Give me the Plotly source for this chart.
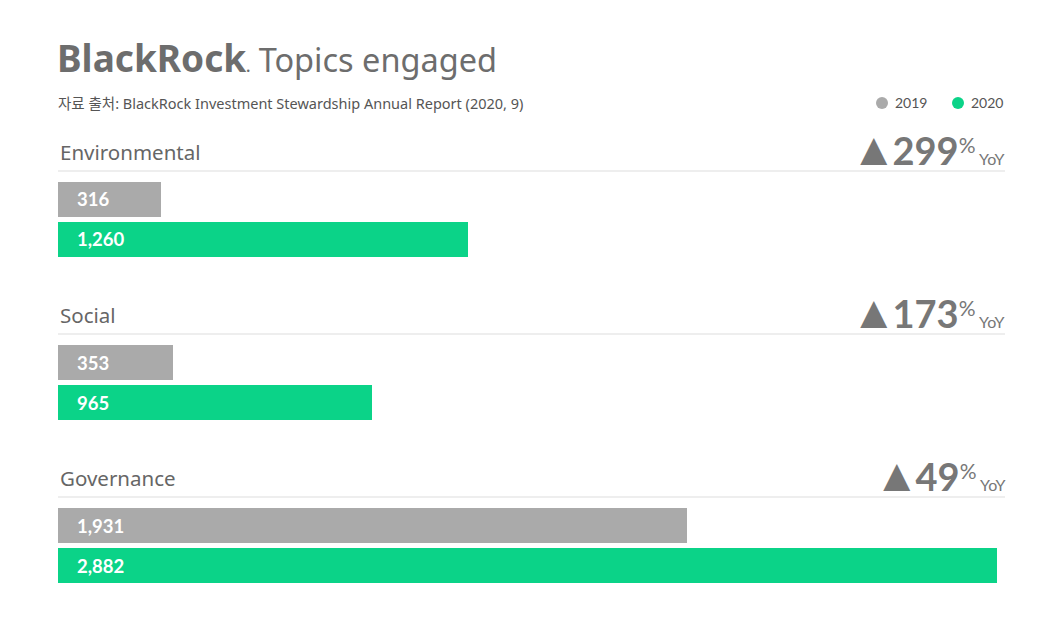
import plotly.graph_objects as go
from plotly.subplots import make_subplots

topics = ["Environmental", "Social", "Governance"]
years = ["2019", "2020"]
values_2019 = [316, 353, 1931]
values_2020 = [1260, 965, 2882]
yoy = ["299", "173", "49"]

colors = {"2019": "#aaaaaa", "2020": "#0bd388"}
W, H = 1060, 630
L, R = 58, 55
PW = W - L - R
cat_order = ["2020", "2019"]

def px_x(x):
    return (x - L) / PW

def px_y(y):
    return 1 - y / H

fig = make_subplots(rows=3, cols=1)

bar_tops = [182, 345, 508]
label_y = [152, 315, 478]
line_y = [171, 334, 497]
yoy_y = [147, 310, 473]

annotations = []
shapes = []
for i, topic in enumerate(topics):
    r = i + 1
    xref = "x" if r == 1 else f"x{r}"
    yref = "y" if r == 1 else f"y{r}"
    for yr, vals in (("2019", values_2019), ("2020", values_2020)):
        fig.add_trace(go.Bar(x=[vals[i]], y=[yr], orientation="h",
                             marker=dict(color=colors[yr], line=dict(width=0)),
                             width=0.875, showlegend=False, hoverinfo="skip"),
                      row=r, col=1)
        annotations.append(dict(x=0, y=cat_order.index(yr), xref=xref, yref=yref,
                                xanchor="left", yanchor="middle",
                                xshift=17, text=f"<b>{vals[i]:,}</b>", showarrow=False,
                                font=dict(family="Lato", size=18.5, color="white")))
    top = bar_tops[i]
    fig.update_yaxes(row=r, col=1, type="category", categoryorder="array",
                     categoryarray=cat_order, range=[-0.4375, 1.4375],
                     domain=[px_y(top + 75), px_y(top)], visible=False, fixedrange=True)
    fig.update_xaxes(row=r, col=1, range=[0, 2907], visible=False, fixedrange=True)
    annotations.append(dict(x=px_x(58), y=px_y(label_y[i]), xref="paper", yref="paper",
                            xanchor="left", yanchor="middle", text=topic, showarrow=False,
                            font=dict(family="Noto Sans", size=20.5, color="#666666")))
    annotations.append(dict(x=px_x(1007), y=px_y(yoy_y[i]), xref="paper", yref="paper",
                            xanchor="right", yanchor="middle", showarrow=False,
                            text=(f"<span style='font-size:46px;letter-spacing:-4px'>▲</span><b>{yoy[i]}</b>"
                                  f"<span style='font-size:21px;baseline-shift:12px'>%</span>"
                                  f"<span style='font-size:16px'> YoY</span>"),
                            font=dict(family="Lato", size=38, color="#777777")))
    shapes.append(dict(type="line", xref="paper", yref="paper", x0=0, x1=1,
                       y0=px_y(line_y[i]), y1=px_y(line_y[i]),
                       line=dict(color="#dddddd", width=1)))

# title & subtitle
annotations.append(dict(x=px_x(55), y=px_y(57), xref="paper", yref="paper", xanchor="left",
                        yanchor="middle", showarrow=False,
                        text=("<span style='font-size:37px'><b>BlackRock</b></span>"
                              "<span style='font-size:14px'><b>.</b></span> Topics engaged"),
                        font=dict(family="Noto Sans", size=32.5, color="#6d6d6d")))
annotations.append(dict(x=px_x(56), y=px_y(103), xref="paper", yref="paper", xanchor="left",
                        yanchor="middle", showarrow=False,
                        text="자료 출처: BlackRock Investment Stewardship Annual Report (2020, 9)",
                        font=dict(family="Noto Sans, Noto Sans CJK KR", size=14.5, color="#555555")))

# legend
for yr, cx in (("2019", 882), ("2020", 958)):
    shapes.append(dict(type="circle", xref="paper", yref="paper", xsizemode="pixel",
                       ysizemode="pixel", xanchor=px_x(cx), yanchor=px_y(103),
                       x0=-6, x1=6, y0=-6, y1=6, fillcolor=colors[yr],
                       line=dict(width=0)))
    annotations.append(dict(x=px_x(cx + 11), y=px_y(103), xref="paper", yref="paper",
                            xanchor="left", yanchor="middle", showarrow=False, text=yr,
                            font=dict(family="Lato", size=14, color="#555555")))

fig.update_layout(width=W, height=H, margin=dict(l=L, r=R, t=0, b=0),
                  plot_bgcolor="white", paper_bgcolor="white",
                  annotations=annotations, shapes=shapes, bargap=0, showlegend=False)
fig.write_html("out.html", config={"displayModeBar": False},
               post_script="document.body.style.margin='0px';")
